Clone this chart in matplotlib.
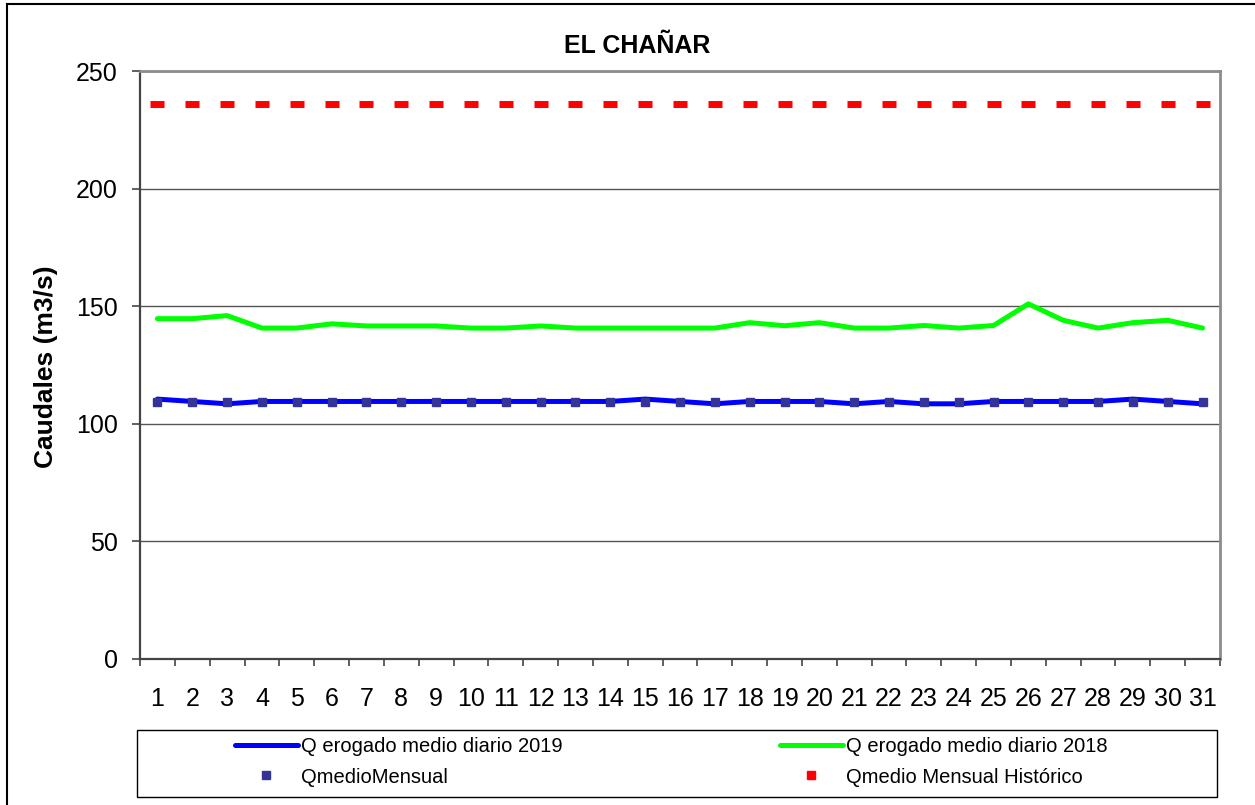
import matplotlib
matplotlib.use('Agg')
import matplotlib.pyplot as plt
from matplotlib.lines import Line2D
from matplotlib.patches import Rectangle

plt.rcParams['font.family'] = ['Liberation Sans', 'DejaVu Sans']

# ---------------- datos ----------------
dias = list(range(1, 32))
q_2019 = [110.5, 109.5, 108.5, 109.5, 109.5, 109.5, 109.5, 109.5, 109.5, 109.5,
          109.5, 109.5, 109.5, 109.5, 110.5, 109.5, 108.5, 109.5, 109.5, 109.5,
          108.5, 109.5, 108.5, 108.5, 109.5, 109.5, 109.5, 109.5, 110.5, 109.5,
          108.5]
q_2018 = [144.7, 144.7, 146.0, 140.7, 140.7, 142.5, 141.6, 141.6, 141.6, 140.7,
          140.7, 141.6, 140.7, 140.7, 140.7, 140.7, 140.7, 143.0, 141.7, 143.0,
          140.7, 140.7, 141.8, 140.7, 141.8, 151.0, 144.0, 140.7, 143.0, 144.0,
          140.7]
q_medio_mensual = 109.4
q_medio_historico = 236

titulo = 'EL CHAÑAR'
etiquetas = ['Q erogado medio diario 2019', 'Q erogado medio diario 2018',
             'QmedioMensual', 'Qmedio Mensual Histórico']

W, H = 1255, 805
fig = plt.figure(figsize=(W / 100, H / 100), dpi=100)
ax = fig.add_axes([140 / W, 1 - 659 / H, 1080 / W, 588 / H])

# ---------------- series ----------------
l19, = ax.plot(dias, q_2019, color='#0000FF', lw=3.6, solid_capstyle='round', zorder=3)
l18, = ax.plot(dias, q_2018, color='#00FF00', lw=3.6, solid_capstyle='round', zorder=3)
lmm, = ax.plot(dias, [q_medio_mensual] * len(dias), ls='none', marker='s',
               ms=5.5, color='#333399', zorder=4)
ax.plot(dias, [q_medio_historico] * len(dias), ls='none', marker='_',
        ms=10.5, mew=5, color='#FF0000', zorder=3)

# ---------------- ejes ----------------
ax.set_xlim(0.5, 31.5)
ax.set_ylim(0, 250)
ax.set_yticks(range(0, 251, 50))
ax.set_xticks(dias)
ax.set_xticks([d + 0.5 for d in range(0, 32)], minor=True)
ax.tick_params(axis='x', which='major', length=0, pad=20, labelsize=18)
ax.tick_params(axis='x', which='minor', length=5, width=1.2, color='#444444', direction='out')
ax.tick_params(axis='y', length=6, width=1.2, color='#444444', pad=10, labelsize=18)

ax.grid(axis='y', color='#555555', lw=1)
ax.set_axisbelow(True)
for s in ['left', 'bottom']:
    ax.spines[s].set_color('#444444')
    ax.spines[s].set_linewidth(1.6)
for s in ['top', 'right']:
    ax.spines[s].set_color('#8c8c8c')
    ax.spines[s].set_linewidth(2)

fig.text(637 / W, 1 - 46 / H, titulo, ha='center', va='center', fontsize=18, fontweight='bold')
fig.text(46 / W, 1 - 367 / H, 'Caudales (m3/s)', rotation=90, ha='center', va='center',
         fontsize=19, fontweight='bold')

# ---------------- leyenda ----------------
h_hist = Line2D([], [], ls='none', marker='s', ms=5.5, color='#FF0000')
kw = dict(frameon=False, fontsize=14.5, handlelength=3.1, handletextpad=0.15,
          labelspacing=0.55, borderpad=0, loc='center left', bbox_transform=fig.transFigure)
leg1 = fig.legend([l19, lmm], [etiquetas[0], etiquetas[2]],
                  bbox_to_anchor=(225 / W, 1 - 762 / H), **kw)
leg2 = fig.legend([l18, h_hist], [etiquetas[1], etiquetas[3]],
                  bbox_to_anchor=(770 / W, 1 - 762 / H), **kw)
fig.add_artist(Rectangle((137 / W, 1 - 797 / H), 1080 / W, 67 / H, transform=fig.transFigure,
                         fill=False, ec='black', lw=1))

# borde de la figura
fig.add_artist(Line2D([7 / W, 7 / W], [0, 1 - 4 / H], transform=fig.transFigure, color='black', lw=1.5))
fig.add_artist(Line2D([7 / W, 1], [1 - 4 / H, 1 - 4 / H], transform=fig.transFigure, color='black', lw=1.5))

fig.savefig('out.png', dpi=100)
